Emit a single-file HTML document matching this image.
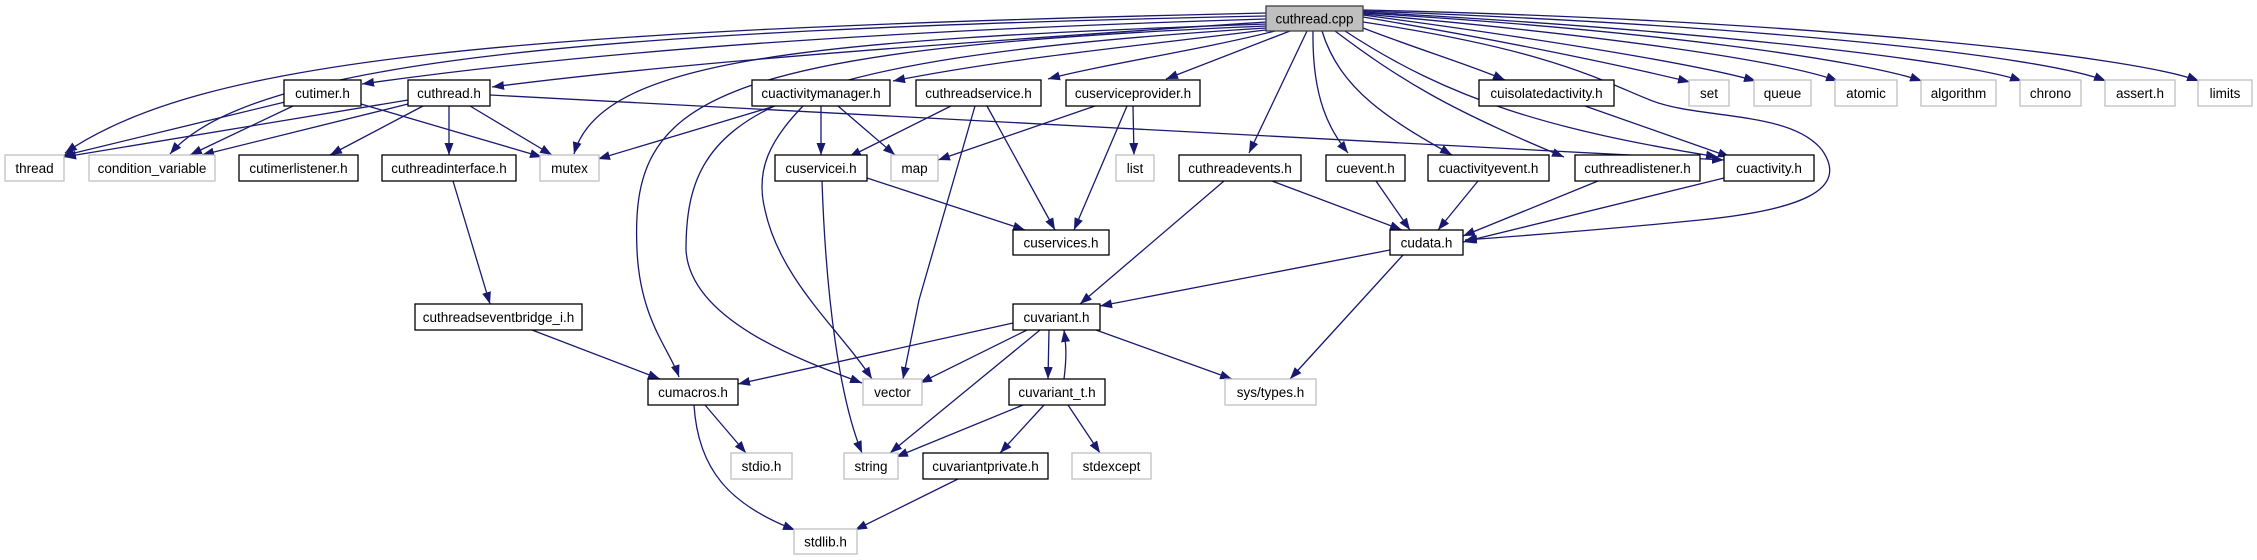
<!DOCTYPE html>
<html><head><meta charset="utf-8"><style>
html,body{margin:0;padding:0;background:#fff;}
svg{display:block;}
text{font-family:"Liberation Sans",sans-serif;font-size:13.5px;fill:#000;}
.e{fill:none;stroke:#191970;stroke-width:1.3;marker-end:url(#a);}
.n{fill:#fff;stroke:#000;stroke-width:1.3;}
.x{fill:#fff;stroke:#bfbfbf;stroke-width:1.3;}
</style></head><body>
<svg width="2257" height="560" viewBox="0 0 2257 560" xmlns="http://www.w3.org/2000/svg">
<defs><marker id="a" markerUnits="userSpaceOnUse" markerWidth="14" markerHeight="10" refX="12" refY="4.5" orient="auto"><polygon points="0,0 12,4.5 0,9" fill="#191970"/></marker></defs>
<!-- edges from cuthread.cpp -->
<path class="e" d="M1266,13 C500,30 200,60 65,153"/>
<path class="e" d="M1266,16 C600,30 250,60 170,154"/>
<path class="e" d="M1266,19 C900,30 600,50 362,84"/>
<path class="e" d="M1266,22 C1000,40 700,60 492,87"/>
<path class="e" d="M1266,24 C800,40 600,60 574,154"/>
<path class="e" d="M1266,26 C700,50 630,100 637,250 C640,320 670,350 679,377"/>
<path class="e" d="M1266,28 C750,60 686,120 686,250 C690,320 800,360 862,383"/>
<path class="e" d="M1266,30 C1100,50 1000,60 893,81"/>
<path class="e" d="M1275,31 C1200,50 1100,65 1048,79"/>
<path class="e" d="M1290,31 L1166,79"/>
<path class="e" d="M1307,31 L1249,153"/>
<path class="e" d="M1313,31 C1312,100 1330,130 1348,153"/>
<path class="e" d="M1322,31 C1340,90 1390,120 1452,155"/>
<path class="e" d="M1335,31 C1400,80 1450,110 1564,157"/>
<path class="e" d="M1345,31 C1450,100 1550,130 1718,157"/>
<path class="e" d="M1363,22 C1550,50 1600,80 1650,100 C1700,120 1790,110 1822,150 C1850,190 1800,210 1700,220 C1600,230 1520,236 1465,240"/>
<path class="e" d="M1363,28 C1420,50 1470,65 1505,80"/>
<path class="e" d="M1363,17 C1500,40 1620,65 1690,82"/>
<path class="e" d="M1363,15 C1550,40 1700,65 1756,81"/>
<path class="e" d="M1363,14 C1600,35 1780,60 1838,81"/>
<path class="e" d="M1363,13 C1650,30 1860,60 1922,81"/>
<path class="e" d="M1363,12 C1700,30 1960,60 2022,81"/>
<path class="e" d="M1363,11 C1750,25 2040,55 2106,81"/>
<path class="e" d="M1363,10 C1800,20 2130,55 2199,81"/>
<!-- other edges -->
<path class="e" d="M285,102 L62,156"/>
<path class="e" d="M293,106 L190,155"/>
<path class="e" d="M361,104 L542,157"/>
<path class="e" d="M408,100 L64,157"/>
<path class="e" d="M408,104 L202,155"/>
<path class="e" d="M423,106 L330,155"/>
<path class="e" d="M449,106 L449,155"/>
<path class="e" d="M470,106 L552,155"/>
<path class="e" d="M490,95 L1724,160"/>
<path class="e" d="M453,181 L490,304"/>
<path class="e" d="M532,330 L660,379"/>
<path class="e" d="M775,106 L598,159"/>
<path class="e" d="M821,106 L821,155"/>
<path class="e" d="M838,106 L895,155"/>
<path class="e" d="M803,106 C770,140 755,170 765,210 C780,280 840,330 872,379"/>
<path class="e" d="M822,181 C826,300 840,400 862,453"/>
<path class="e" d="M867,178 L1025,230"/>
<path class="e" d="M951,106 L849,157"/>
<path class="e" d="M987,106 L1055,230"/>
<path class="e" d="M975,106 L919,300 L903,379"/>
<path class="e" d="M1095,106 L938,160"/>
<path class="e" d="M1133,106 L1134,155"/>
<path class="e" d="M1127,106 L1074,230"/>
<path class="e" d="M1272,181 L1402,230"/>
<path class="e" d="M1224,181 L1080,304"/>
<path class="e" d="M1376,181 L1410,230"/>
<path class="e" d="M1478,181 L1438,230"/>
<path class="e" d="M1598,181 L1463,236"/>
<path class="e" d="M1724,178 L1463,242"/>
<path class="e" d="M1585,106 L1730,157"/>
<path class="e" d="M1390,250 L1100,306"/>
<path class="e" d="M1403,255 L1290,379"/>
<path class="e" d="M1013,323 L738,384"/>
<path class="e" d="M1027,330 L920,383"/>
<path class="e" d="M1040,330 L890,453"/>
<path class="e" d="M1049,330 L1048,379"/>
<path class="e" d="M1064,379 C1067,355 1066,345 1064,330"/>
<path class="e" d="M1096,330 L1232,379"/>
<path class="e" d="M1023,405 L896,457"/>
<path class="e" d="M1044,405 L1000,453"/>
<path class="e" d="M1068,405 L1100,453"/>
<path class="e" d="M705,405 L746,453"/>
<path class="e" d="M694,405 C698,470 730,505 795,530"/>
<path class="e" d="M958,479 L855,530"/>
<!-- nodes -->
<rect x="1266" y="6" width="97" height="25" fill="#bfbfbf" stroke="#404040" stroke-width="1.3"/><text x="1314.5" y="23.5" text-anchor="middle">cuthread.cpp</text>
<g>
<rect class="n" x="284" y="80" width="77" height="26"/><text x="322.5" y="98" text-anchor="middle">cutimer.h</text>
<rect class="n" x="408" y="80" width="82" height="26"/><text x="449" y="98" text-anchor="middle">cuthread.h</text>
<rect class="n" x="752" y="80" width="138" height="26"/><text x="821" y="98" text-anchor="middle">cuactivitymanager.h</text>
<rect class="n" x="916" y="80" width="125" height="26"/><text x="978.5" y="98" text-anchor="middle">cuthreadservice.h</text>
<rect class="n" x="1066" y="80" width="134" height="26"/><text x="1133" y="98" text-anchor="middle">cuserviceprovider.h</text>
<rect class="n" x="1479" y="80" width="135" height="26"/><text x="1546.5" y="98" text-anchor="middle">cuisolatedactivity.h</text>
<rect class="x" x="1689" y="80" width="40" height="26"/><text x="1709" y="98" text-anchor="middle">set</text>
<rect class="x" x="1754" y="80" width="57" height="26"/><text x="1782.5" y="98" text-anchor="middle">queue</text>
<rect class="x" x="1835" y="80" width="62" height="26"/><text x="1866" y="98" text-anchor="middle">atomic</text>
<rect class="x" x="1921" y="80" width="75" height="26"/><text x="1958.5" y="98" text-anchor="middle">algorithm</text>
<rect class="x" x="2020" y="80" width="61" height="26"/><text x="2050.5" y="98" text-anchor="middle">chrono</text>
<rect class="x" x="2105" y="80" width="70" height="26"/><text x="2140" y="98" text-anchor="middle">assert.h</text>
<rect class="x" x="2198" y="80" width="54" height="26"/><text x="2225" y="98" text-anchor="middle">limits</text>

<rect class="x" x="5" y="155" width="59" height="26"/><text x="34.5" y="173" text-anchor="middle">thread</text>
<rect class="x" x="89" y="155" width="126" height="26"/><text x="152" y="173" text-anchor="middle">condition_variable</text>
<rect class="n" x="239" y="155" width="119" height="26"/><text x="298.5" y="173" text-anchor="middle">cutimerlistener.h</text>
<rect class="n" x="382" y="155" width="134" height="26"/><text x="449" y="173" text-anchor="middle">cuthreadinterface.h</text>
<rect class="x" x="540" y="155" width="59" height="26"/><text x="569.5" y="173" text-anchor="middle">mutex</text>
<rect class="n" x="775" y="155" width="92" height="26"/><text x="821" y="173" text-anchor="middle">cuservicei.h</text>
<rect class="x" x="891" y="155" width="47" height="26"/><text x="914.5" y="173" text-anchor="middle">map</text>
<rect class="x" x="1116" y="155" width="38" height="26"/><text x="1135" y="173" text-anchor="middle">list</text>
<rect class="n" x="1179" y="155" width="122" height="26"/><text x="1240" y="173" text-anchor="middle">cuthreadevents.h</text>
<rect class="n" x="1326" y="155" width="79" height="26"/><text x="1365.5" y="173" text-anchor="middle">cuevent.h</text>
<rect class="n" x="1428" y="155" width="121" height="26"/><text x="1488.5" y="173" text-anchor="middle">cuactivityevent.h</text>
<rect class="n" x="1575" y="155" width="125" height="26"/><text x="1637.5" y="173" text-anchor="middle">cuthreadlistener.h</text>
<rect class="n" x="1724" y="155" width="90" height="26"/><text x="1769" y="173" text-anchor="middle">cuactivity.h</text>

<rect class="n" x="1013" y="230" width="96" height="25"/><text x="1061" y="247.5" text-anchor="middle">cuservices.h</text>
<rect class="n" x="1390" y="230" width="73" height="25"/><text x="1426.5" y="247.5" text-anchor="middle">cudata.h</text>

<rect class="n" x="415" y="304" width="167" height="26"/><text x="498.5" y="322" text-anchor="middle">cuthreadseventbridge_i.h</text>
<rect class="n" x="1013" y="304" width="87" height="26"/><text x="1056.5" y="322" text-anchor="middle">cuvariant.h</text>

<rect class="n" x="648" y="379" width="90" height="26"/><text x="693" y="397" text-anchor="middle">cumacros.h</text>
<rect class="x" x="863" y="379" width="59" height="26"/><text x="892.5" y="397" text-anchor="middle">vector</text>
<rect class="n" x="1009" y="379" width="96" height="26"/><text x="1057" y="397" text-anchor="middle">cuvariant_t.h</text>
<rect class="x" x="1225" y="379" width="91" height="26"/><text x="1270.5" y="397" text-anchor="middle">sys/types.h</text>

<rect class="x" x="731" y="453" width="61" height="26"/><text x="761.5" y="471" text-anchor="middle">stdio.h</text>
<rect class="x" x="844" y="453" width="54" height="26"/><text x="871" y="471" text-anchor="middle">string</text>
<rect class="n" x="923" y="453" width="125" height="26"/><text x="985.5" y="471" text-anchor="middle">cuvariantprivate.h</text>
<rect class="x" x="1072" y="453" width="79" height="26"/><text x="1111.5" y="471" text-anchor="middle">stdexcept</text>

<rect class="x" x="794" y="529" width="63" height="25"/><text x="825.5" y="546.5" text-anchor="middle">stdlib.h</text>
</g>
</svg>
</body></html>
